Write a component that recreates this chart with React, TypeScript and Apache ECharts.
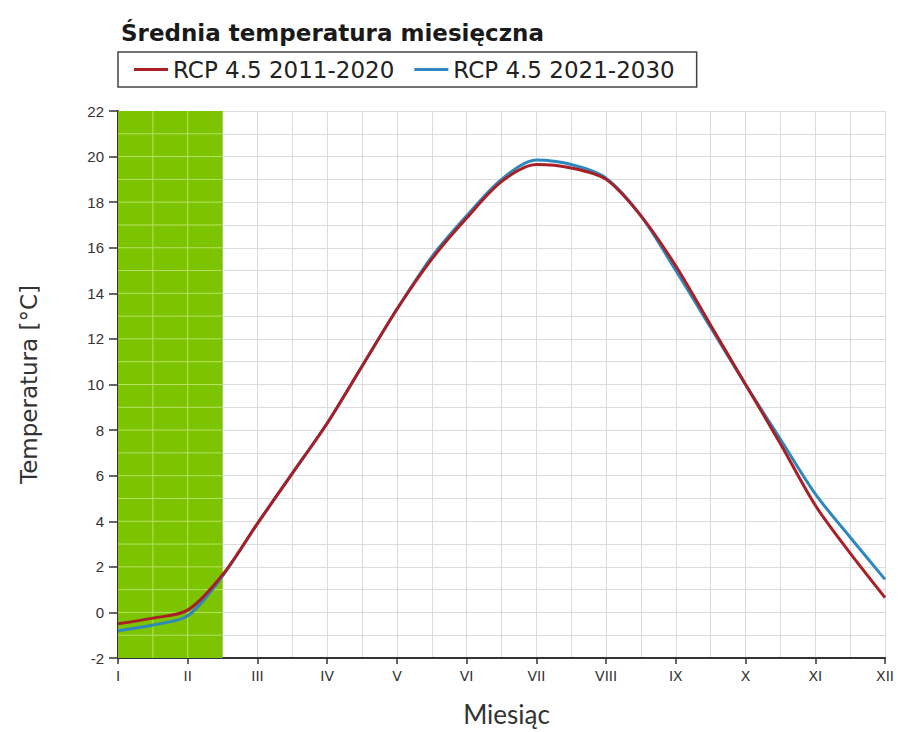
import React, { useEffect, useRef } from "react";
import * as echarts from "echarts";

const title = "Średnia temperatura miesięczna";
const seriesNames = ["RCP 4.5 2011-2020", "RCP 4.5 2021-2030"];
const monthLabels = ["I", "II", "III", "IV", "V", "VI", "VII", "VIII", "IX", "X", "XI", "XII"];
// half-month sample positions (1 = I, 12 = XII)
const monthPoints = [1, 1.5, 2, 2.5, 3, 3.5, 4, 4.5, 5, 5.5, 6, 6.5, 7, 7.5, 8, 8.5, 9, 9.5, 10, 10.5, 11, 11.5, 12];
const rcp2011 = [-0.5, -0.25, 0.1, 1.65, 3.9, 6.1, 8.3, 10.8, 13.3, 15.5, 17.3, 18.9, 19.65, 19.5, 19.0, 17.4, 15.2, 12.6, 10.0, 7.4, 4.7, 2.6, 0.65];
const rcp2021 = [-0.8, -0.55, -0.15, 1.6, 3.9, 6.1, 8.3, 10.8, 13.3, 15.6, 17.4, 19.0, 19.85, 19.65, 19.05, 17.4, 15.0, 12.5, 10.0, 7.6, 5.2, 3.3, 1.45];
const bandRange = [1, 2.5];
const yRange = [-2, 22];
const bandGridX = [1.5, 2];
const bandGridY = [-1, 0, 1, 2, 3, 4, 5, 6, 7, 8, 9, 10, 11, 12, 13, 14, 15, 16, 17, 18, 19, 20, 21];

if (typeof document !== "undefined") {
  document.body.style.margin = "0";
}

export default function App() {
  const ref = useRef<HTMLDivElement>(null);
  useEffect(() => {
    if (!ref.current) return;
    document.body.style.margin = "0";
    const chart = echarts.init(ref.current, null, { renderer: "svg" });
    const gridColor = "#dcdcdc";
    const bandLine = "#b6e266";
    const font = "DejaVu Sans";
    chart.setOption({
      animation: false,
      backgroundColor: "#ffffff",
      title: {
        text: title,
        left: 116,
        top: 16,
        textStyle: { fontFamily: font, fontWeight: "bold", fontSize: 23, color: "#1a1a1a" },
      },
      legend: {
        data: seriesNames,
        left: 118,
        top: 52,
        icon: "rect",
        itemWidth: 34,
        itemHeight: 3,
        itemGap: 20,
        padding: [6, 22, 6, 16],
        borderColor: "#444",
        borderWidth: 1.5,
        textStyle: { fontFamily: font, fontSize: 23, color: "#222" },
      },
      grid: { left: 118, right: 13, top: 111, bottom: 74 },
      xAxis: {
        type: "value",
        min: 1,
        max: 12,
        interval: 1,
        name: "Miesiąc",
        nameLocation: "middle",
        nameGap: 43,
        nameTextStyle: { fontFamily: "Lato", fontSize: 26, color: "#333", padding: [0, 0, 0, 10] },
        axisLine: { show: true, onZero: false, lineStyle: { color: "#333", width: 2 } },
        axisTick: { show: true, length: 6, inside: false, lineStyle: { color: "#333", width: 1.5 } },
        axisLabel: {
          fontFamily: font,
          fontSize: 14,
          color: "#333",
          margin: 11,
          showMaxLabel: true,
          formatter: (v: number) => monthLabels[Math.round(v) - 1] || "",
        },
        splitLine: { show: true, lineStyle: { color: gridColor, width: 1 } },
        minorTick: { show: false, splitNumber: 2 },
        minorSplitLine: { show: true, lineStyle: { color: gridColor, width: 1 } },
      },
      yAxis: {
        type: "value",
        min: yRange[0],
        max: yRange[1],
        interval: 2,
        name: "Temperatura [°C]",
        nameLocation: "middle",
        nameGap: 78,
        nameTextStyle: { fontFamily: font, fontSize: 23, color: "#333" },
        axisLine: { show: true, onZero: false, lineStyle: { color: "#333", width: 2 } },
        axisTick: { show: true, length: 9, lineStyle: { color: "#333", width: 1.5 } },
        axisLabel: { fontFamily: "Liberation Sans", fontSize: 15, color: "#333", margin: 14 },
        splitLine: { show: true, lineStyle: { color: gridColor, width: 1 } },
        minorTick: { show: false, splitNumber: 2 },
        minorSplitLine: { show: true, lineStyle: { color: gridColor, width: 1 } },
      },
      series: [
        {
          name: "band",
          type: "custom",
          silent: true,
          z: 1,
          data: [bandRange],
          renderItem: (params: any, api: any) => {
            const x0 = api.value(0);
            const x1 = api.value(1);
            const tl = api.coord([x0, yRange[1]]);
            const br = api.coord([x1, yRange[0]]);
            const children: any[] = [
              {
                type: "rect",
                shape: { x: tl[0], y: tl[1], width: br[0] - tl[0], height: br[1] - tl[1] },
                style: { fill: "#7cc300" },
              },
            ];
            bandGridX.forEach((gx) => {
              const a = api.coord([gx, yRange[1]]);
              const b = api.coord([gx, yRange[0]]);
              children.push({
                type: "line",
                shape: { x1: a[0], y1: a[1], x2: b[0], y2: b[1] },
                style: { stroke: bandLine, lineWidth: 1 },
              });
            });
            bandGridY.forEach((gy) => {
              const a = api.coord([x0, gy]);
              const b = api.coord([x1, gy]);
              children.push({
                type: "line",
                shape: { x1: a[0], y1: a[1], x2: b[0], y2: b[1] },
                style: { stroke: bandLine, lineWidth: 1 },
              });
            });
            return { type: "group", children };
          },
        },
        {
          name: seriesNames[1],
          type: "line",
          z: 10,
          smooth: 0.3,
          showSymbol: false,
          data: monthPoints.map((x, i) => [x, rcp2021[i]]),
          lineStyle: { color: "#2e87bd", width: 3 },
          itemStyle: { color: "#2e87bd" },
        },
        {
          name: seriesNames[0],
          type: "line",
          z: 11,
          smooth: 0.3,
          showSymbol: false,
          data: monthPoints.map((x, i) => [x, rcp2011[i]]),
          lineStyle: { color: "#a81f26", width: 3 },
          itemStyle: { color: "#a81f26" },
        },
      ],
    });
    return () => chart.dispose();
  }, []);
  return <div ref={ref} style={{ width: 898, height: 732 }} />;
}
